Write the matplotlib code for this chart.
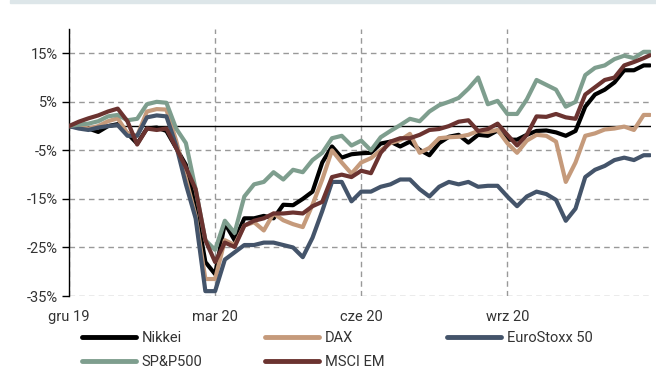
import matplotlib
matplotlib.use("Agg")
import matplotlib.pyplot as plt
from matplotlib.patches import Rectangle
import numpy as np

# x positions in months since Dec 2019 (0 = gru 19)
x_pos = [i * 0.2 for i in range(60)] + [11.93]

tick_pos = [0, 3, 6, 9]
tick_labels = ["gru 19", "mar 20", "cze 20", "wrz 20"]
y_ticks = [15, 5, -5, -15, -25, -35]

nikkei = [0, -0.3, -0.5, -1.2, 0, 0.4, -1.5, -3.6, -0.5, -0.3,
          -1.0, -4.5, -8.0, -16.5, -28.0, -30.5, -20.0, -23.5, -19.0, -19.0,
          -18.5, -19.0, -16.2, -16.3, -15.0, -13.5, -7.5, -4.2, -6.5, -5.8,
          -5.6, -5.5, -3.6, -3.2, -4.2, -3.2, -4.9, -6.0, -3.5, -2.2,
          -1.8, -3.4, -1.8, -2.0, -0.9, -2.8, -2.8, -1.8, -1.0, -0.9,
          -1.3, -2.0, -1.0, 4.0, 6.5, 7.5, 9.0, 11.5, 11.5, 12.5,
          12.5]

dax = [0, 0, -0.5, 0, 1.0, 1.6, -1.5, -2.0, 3.0, 3.5,
       3.4, -3.0, -10.8, -18.5, -31.5, -31.5, -23.5, -24.5, -20.5, -19.8,
       -21.5, -18.0, -19.4, -20.2, -20.8, -16.2, -11.0, -5.0, -7.5, -9.8,
       -7.5, -6.6, -5.0, -3.5, -2.9, -1.6, -5.5, -4.5, -2.5, -2.3,
       -2.2, -1.8, -1.0, -1.2, -0.8, -3.5, -5.5, -3.0, -1.8, -2.0,
       -3.2, -11.5, -7.5, -2.0, -1.5, -0.7, -0.5, -0.1, -0.8, 2.3,
       2.3]

eurostoxx = [0, -0.5, -0.8, -0.3, 0, 0.2, -2.0, -2.0, 1.8, 2.2,
             2.0, -4.0, -12.0, -19.0, -34.0, -34.0, -27.5, -26.0, -24.5, -24.5,
             -24.0, -24.0, -24.5, -25.0, -27.0, -23.0, -17.5, -11.5, -11.5, -15.5,
             -13.5, -13.5, -12.5, -12.0, -11.0, -11.0, -13.0, -14.5, -12.5, -11.5,
             -12.0, -11.5, -12.5, -12.3, -12.3, -14.5, -16.5, -14.5, -13.5, -14.0,
             -15.2, -19.5, -17.0, -10.5, -9.0, -8.2, -7.0, -6.5, -7.0, -6.0,
             -6.0]

sp500 = [0, 0.3, 0.5, 1.0, 2.0, 2.3, 1.2, 1.5, 4.5, 5.0,
         4.8, -0.5, -3.5, -13.0, -23.5, -25.5, -19.5, -22.0, -14.5, -12.0,
         -11.5, -9.5, -11.0, -9.0, -9.5, -7.0, -5.5, -2.5, -2.0, -4.0,
         -3.0, -5.0, -2.3, -1.0, 0.2, 1.5, 1.0, 3.0, 4.3, 5.0,
         5.8, 7.7, 10.0, 4.5, 5.2, 2.5, 2.5, 5.5, 9.5, 8.5,
         7.5, 4.0, 5.0, 10.5, 12.0, 12.5, 13.8, 14.5, 14.0, 15.3,
         15.3]

msci_em = [0, 0.9, 1.6, 2.2, 3.0, 3.6, 1.0, -3.8, -0.5, -0.8,
           -0.5, -4.5, -8.5, -13.0, -23.5, -28.0, -24.0, -24.9, -20.5, -19.5,
           -19.0, -18.0, -18.0, -17.8, -18.0, -16.5, -15.6, -10.5, -10.0, -10.5,
           -9.2, -9.7, -5.5, -3.2, -2.5, -2.5, -1.8, -0.8, -0.6, 0.0,
           0.9, 1.2, -1.0, -0.6, 0.5, -1.8, -4.0, -1.8, 2.0, 1.9,
           2.5, 1.8, 1.5, 6.5, 8.0, 9.5, 10.0, 12.5, 13.2, 14.0,
           14.6]

series = [
    ("Nikkei", nikkei, "#000000"),
    ("DAX", dax, "#c59a7b"),
    ("EuroStoxx 50", eurostoxx, "#44546a"),
    ("SP&P500", sp500, "#7e9e8e"),
    ("MSCI EM", msci_em, "#6b3330"),
]

plt.rcParams["font.family"] = ["Roboto", "DejaVu Sans"]

fig = plt.figure(figsize=(6.56, 3.72), dpi=100)
ax = fig.add_axes([69 / 656, 1 - 296 / 372, (651 - 69) / 656, (296 - 29) / 372])

fig.patches.append(Rectangle((10 / 656, 1 - 3 / 372), 646 / 656, 3 / 372,
                             transform=fig.transFigure, color="#dde6e9", zorder=0))

lines = {}
for name, vals, col in series:
    (ln,) = ax.plot(x_pos, vals, color=col, lw=3.0, solid_joinstyle="round",
                    solid_capstyle="round", zorder=3)
    lines[name] = ln

ax.axhline(0, color="black", lw=1.0, zorder=2)

ax.set_xlim(0, 11.95)
ax.set_ylim(-35, 20)
ax.set_yticks(y_ticks)
ax.set_yticklabels([f"{v}%" for v in y_ticks])
ax.set_xticks(tick_pos)
ax.set_xticklabels(tick_labels)

for s in ["top", "right", "bottom"]:
    ax.spines[s].set_visible(False)
ax.spines["left"].set_color("black")
ax.spines["left"].set_linewidth(1.0)

ax.grid(True, color="#999999", linestyle=(0, (4, 3)), linewidth=1.0, zorder=1)
ax.set_axisbelow(True)
ax.tick_params(axis="y", length=5, width=1, color="black", labelsize=10.5,
               labelcolor="#333333", pad=3)
ax.tick_params(axis="x", length=0, labelsize=10.5, labelcolor="#333333", pad=10)

order = ["Nikkei", "SP&P500", "DAX", "MSCI EM", "EuroStoxx 50"]
leg = fig.legend([lines[n] for n in order], order, ncol=3,
                 loc="upper left", bbox_to_anchor=(82 / 656, 1 - 331 / 372),
                 frameon=False, fontsize=10.5, handlelength=3.7,
                 handletextpad=0.4, columnspacing=4.3, labelspacing=0.72,
                 borderaxespad=0, borderpad=0, handleheight=0.7)
for t in leg.get_texts():
    t.set_color("#333333")
for h in leg.legend_handles:
    h.set_linewidth(3.5)

fig.savefig("out.png", dpi=100)
